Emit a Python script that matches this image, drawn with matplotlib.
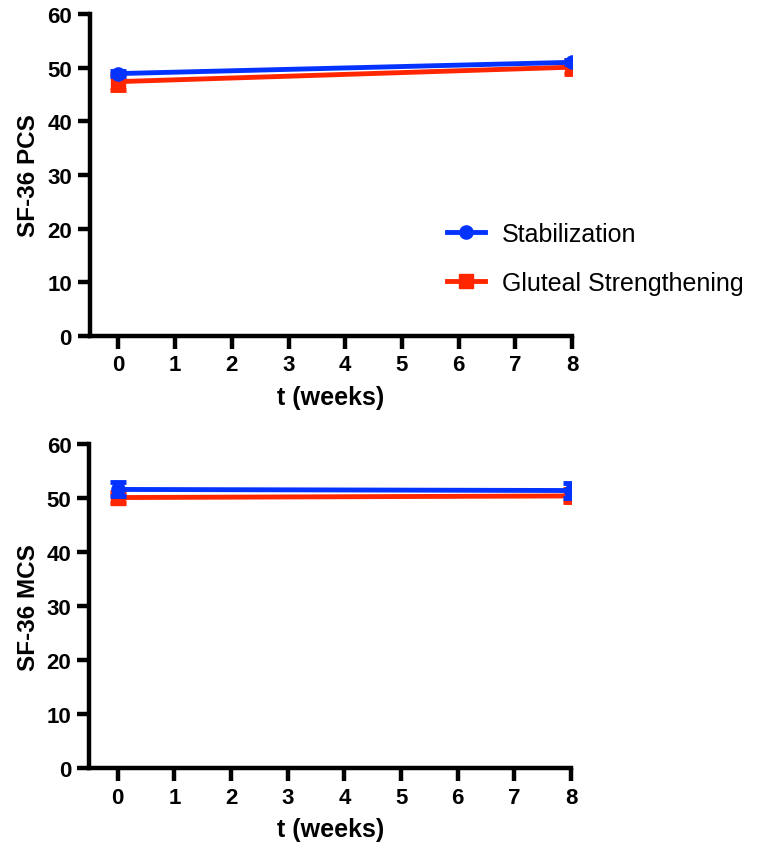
import matplotlib
matplotlib.use('Agg')
import matplotlib.pyplot as plt
from matplotlib.lines import Line2D

plt.rcParams['font.family'] = ['Liberation Sans', 'DejaVu Sans']

# weeks of follow-up
weeks = [0, 8]

# SF-36 physical component summary (mean, SEM)
pcs_stab = [48.9, 51.0]
pcs_stab_err = [0.4, 0.4]
pcs_glut = [47.4, 50.1]
pcs_glut_err = [1.5, 1.3]

# SF-36 mental component summary (mean, SEM)
mcs_stab = [51.6, 51.4]
mcs_stab_err = [1.3, 1.4]
mcs_glut = [50.1, 50.4]
mcs_glut_err = [1.0, 1.2]

BLUE = '#0433ff'
RED = '#ff2600'
LW = 3.5
SPINE = 3.2


def draw_panel(ax, stab, stab_err, glut, glut_err, ylabel):
    ax.errorbar(weeks, glut, yerr=glut_err, color=RED, marker='s', markersize=9.5,
                lw=LW, elinewidth=LW, capsize=5.5, capthick=LW, zorder=3)
    ax.errorbar(weeks, stab, yerr=stab_err, color=BLUE, marker='o', markersize=9.5,
                lw=LW, elinewidth=LW, capsize=5.5, capthick=LW, zorder=4)
    ax.set_xlim(-0.5, 8)
    ax.set_ylim(0, 60)
    ax.set_xticks(range(9))
    ax.set_yticks(range(0, 61, 10))
    for side in ('top', 'right'):
        ax.spines[side].set_visible(False)
    for side in ('left', 'bottom'):
        ax.spines[side].set_linewidth(SPINE)
        ax.spines[side].set_capstyle('projecting')
    ax.tick_params(width=SPINE, length=9, labelsize=16, direction='out', pad=4)
    for lab in ax.get_xticklabels() + ax.get_yticklabels():
        lab.set_fontweight('bold')
    ax.set_xlabel('t (weeks)', fontsize=18, fontweight='bold', labelpad=7)
    ax.set_ylabel(ylabel, fontsize=17.5, fontweight='bold', labelpad=5)


fig = plt.figure(figsize=(7.57, 8.53), dpi=100)
ax1 = fig.add_axes([0.1189, 0.6049, 0.6368, 0.3775])
ax2 = fig.add_axes([0.1182, 0.0979, 0.6361, 0.3804])

draw_panel(ax1, pcs_stab, pcs_stab_err, pcs_glut, pcs_glut_err, 'SF-36 PCS')
draw_panel(ax2, mcs_stab, mcs_stab_err, mcs_glut, mcs_glut_err, 'SF-36 MCS')

handles = [Line2D([], [], color=BLUE, lw=LW, marker='o', markersize=9.5),
           Line2D([], [], color=RED, lw=LW, marker='s', markersize=9.5)]
ax1.legend(handles, ['Stabilization', 'Gluteal Strengthening'], loc='center left',
           bbox_to_anchor=(0.5905, 0.6955), bbox_transform=fig.transFigure, frameon=False,
           fontsize=18, borderpad=0, borderaxespad=0, handlelength=1.5,
           handletextpad=0.7, labelspacing=1.0)

fig.savefig('out.png', dpi=100)
